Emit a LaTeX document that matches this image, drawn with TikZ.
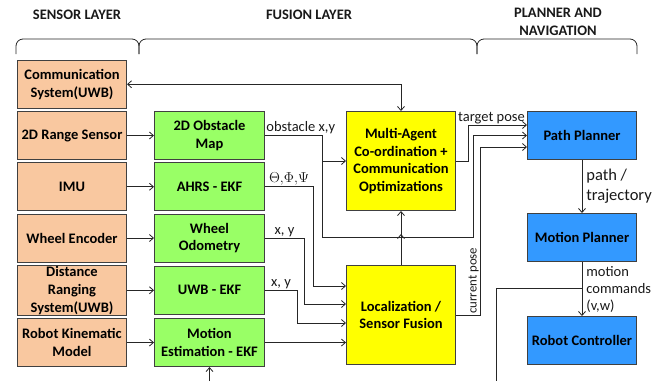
\documentclass[tikz,border=0pt]{standalone}
\usepackage{fontspec}
\setmainfont{Carlito}
\usepackage{xcolor}
\usepackage{tikz}
\usetikzlibrary{positioning,arrows.meta,calc}
\definecolor{sensorfill}{HTML}{F9C8A0}
\definecolor{fusionfill}{HTML}{99FF66}
\definecolor{agentfill}{HTML}{FFFF00}
\definecolor{plannerfill}{HTML}{3399FF}
\definecolor{edge}{HTML}{404040}
\definecolor{linecol}{HTML}{262626}
\tikzset{
    >={Straight Barb[length=4pt,width=7pt]},
    block/.style={rectangle, draw=edge, line width=1pt, minimum width=109pt, minimum height=48pt, align=center, inner sep=1pt, font=\fontsize{14.5}{17.8}\selectfont\bfseries},
    sensor/.style={block, fill=sensorfill},
    fusion/.style={block, fill=fusionfill, minimum width=110pt},
    agent/.style={block, fill=agentfill, minimum height=99pt},
    planner/.style={block, fill=plannerfill},
    link/.style={line width=0.8pt, color=linecol},
    arrow/.style={link, ->},
    tag/.style={font=\fontsize{14.5}{17}\selectfont, inner sep=1pt, text=black!90},
    layer/.style={font=\fontsize{14.5}{17.8}\selectfont\bfseries, align=center, text=black!90},
    bracket/.style={line width=0.8pt, color=linecol, rounded corners=7pt}
}
\begin{document}
\begin{tikzpicture}[x=1pt, y=-1pt]
\useasboundingbox (0,0) rectangle (665,381);

% layer headings
\node[layer] (hsensor) at (77,15) {SENSOR LAYER};
\node[layer] (hfusion) at (309,15) {FUSION LAYER};
\node[layer] (hplanner) at (558,22) {PLANNER AND\\NAVIGATION};

\draw[bracket] (16,54) -- (16,39) -- (139,39) -- (139,54);
\draw[bracket] (139,54) -- (139,39) -- (477,39) -- (477,54);
\draw[bracket] (477,54) -- (477,39) -- (637,39) -- (637,54);

% sensor layer
\node[sensor] (range) at (72,135.5) {2D Range Sensor};
\node[sensor, above=2.25pt of range] (comm) {Communication\\System(UWB)};
\node[sensor, below=2.25pt of range] (imu) {IMU};
\node[sensor, below=2.25pt of imu] (encoder) {Wheel Encoder};
\node[sensor, below=2.25pt of encoder] (ranging) {Distance\\Ranging\\System(UWB)};
\node[sensor, below=2.25pt of ranging] (kinematic) {Robot Kinematic\\Model};

% fusion layer
\node[fusion, right=27pt of range] (obstacle) {2D Obstacle\\Map};
\node[fusion, right=27pt of imu] (ahrs) {AHRS - EKF};
\node[fusion, right=27pt of encoder] (odometry) {Wheel\\Odometry};
\node[fusion, right=27pt of ranging] (uwbekf) {UWB - EKF};
\node[fusion, right=27pt of kinematic] (motionest) {Motion\\Estimation - EKF};

\node[agent] (multi) at (401,161) {Multi-Agent\\Co-ordination +\\Communication\\Optimizations};
\node[agent] (loc) at (401,315) {Localization /\\Sensor Fusion};

% planner and navigation
\node[planner] (path) at (582,135.5) {Path Planner};
\node[planner, below=53pt of path] (mplan) {Motion Planner};
\node[planner, below=54pt of mplan] (ctrl) {Robot Controller};

\coordinate (obsdrop) at (322,237);
\coordinate (obsrise) at (473,237);
\coordinate (midtip) at (401,234);
\coordinate (fbexit) at (496,381);
\coordinate (meentry) at (209.5,381);

\draw[arrow] (range.east) -- (obstacle.west);
\draw[arrow] (imu.east) -- (ahrs.west);
\draw[arrow] (encoder.east) -- (odometry.west);
\draw[arrow] (ranging.east) -- (uwbekf.west);
\draw[arrow] (kinematic.east) -- (motionest.west);

\draw[arrow, <->] (multi.north) |- (comm.east);

\draw[arrow] (obstacle.east) node[tag, anchor=south west] {obstacle x,y} -| (obsdrop) -- (obsrise) |- (path.west);
\draw[arrow] (obstacle.east -| obsdrop) |- (multi.west);
\draw[arrow] (ahrs.east) -- node[tag, above] {$\Theta{,}\Phi{,}\Psi$} ++(48,0) |- ([yshift=29pt]loc.west);
\draw[arrow] (odometry.east) -- node[tag, above] {x, y} ++(39,0) |- ([yshift=11pt]loc.west);
\draw[arrow] (uwbekf.east) -- node[tag, above] {x, y} ++(32,0) |- ([yshift=-8pt]loc.west);
\draw[arrow] (motionest.east) -- (motionest.east -| loc.west);

\draw[arrow] (loc.north) -- (multi.south);
\draw[arrow] (loc.north) -- (midtip);

\draw[arrow] (multi.east) -- ++(12,0) |- node[tag, above, pos=0.75, xshift=-6pt] {target pose} ([yshift=10.5pt]path.west);
\draw[arrow] (loc.east) -- ++(24,0) node[tag, rotate=90, anchor=south west, font=\fontsize{12.8}{15}\selectfont] {current pose} |- ([yshift=-11.5pt]path.west);

\draw[arrow] (path.south) -- node[tag, right=3pt, align=left, font=\fontsize{16.5}{20}\selectfont] {path /\\trajectory} (mplan.north);
\draw[arrow] (mplan.south) -- node[tag, right=3pt, align=left] {motion\\commands\\(v,w)} (ctrl.north);
\draw[link] ($(mplan.south)!0.48!(ctrl.north)$) -| (fbexit);
\draw[arrow] (meentry) -- (motionest.south);

\end{tikzpicture}
\end{document}
